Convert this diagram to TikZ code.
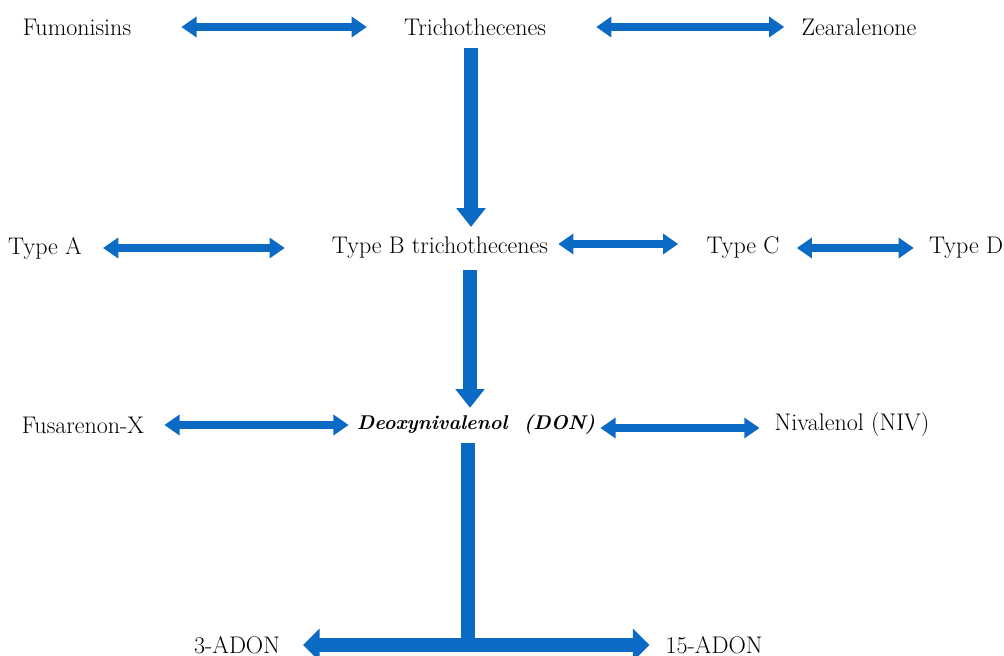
\documentclass[tikz,border=0pt]{standalone}
\usetikzlibrary{arrows.meta}
\definecolor{arrblue}{RGB}{10,106,196}
\tikzset{
	lbl/.style={font=\fontsize{20.5}{24}\selectfont, inner sep=0pt},
	twoway/.style={draw=arrblue, line width=7.5pt, {Triangle[width=17pt,length=13pt]}-{Triangle[width=17pt,length=13pt]}},
	downway/.style={draw=arrblue, line width=12pt, -{Triangle[width=24pt,length=16pt]}},
	bigway/.style={draw=arrblue, line width=12pt, {Triangle[width=27pt,length=14pt]}-{Triangle[width=27pt,length=14pt]}}
}
\begin{document}
\begin{tikzpicture}[x=0.03cm,y=-0.03cm]
	\useasboundingbox (0,0) rectangle (1004,656);
	% first row
	\node[lbl] (fum) at (77,27) {Fumonisins};
	\node[lbl] (tri) at (475,27) {Trichothecenes};
	\node[lbl] (zea) at (859,27) {Zearalenone};
	% second row
	\node[lbl] (typA) at (45,248) {Type A};
	\node[lbl] (typB) at (440,248) {Type B trichothecenes};
	\node[lbl] (typC) at (743,248) {Type C};
	\node[lbl] (typD) at (966,248) {Type D};
	% third row
	\node[lbl] (fus) at (83,425) {Fusarenon-X};
	\node[lbl, font=\fontsize{17}{21}\selectfont] (don) at (476,425) {\textit{\textbf{Deoxynivalenol\ \ (DON)}}};
	\node[lbl] (niv) at (852,425) {Nivalenol (NIV)};
	% bottom row
	\node[lbl] (adA) at (237,645) {3-ADON};
	\node[lbl] (adB) at (714,645) {15-ADON};
	% horizontal arrows
	\draw[twoway, shorten <=1.5cm, shorten >=1.11cm] (fum.east) -- (tri.west);
	\draw[twoway, shorten <=1.5cm, shorten >=0.51cm] (tri.east) -- (zea.west);
	\draw[twoway, shorten <=0.63cm, shorten >=1.41cm] (typA.east) -- (typB.west);
	\draw[twoway, shorten <=0.3cm, shorten >=0.84cm] ([yshift=0.12cm]typB.east) -- ([yshift=0.12cm]typC.west);
	\draw[twoway, shorten <=0.51cm, shorten >=0.45cm] (typC.east) -- (typD.west);
	\draw[twoway, shorten <=0.6cm, shorten >=0.24cm] (fus.east) -- (don.west);
	\draw[twoway, shorten <=0.15cm, shorten >=0.45cm] ([yshift=-0.09cm]don.east) -- ([yshift=-0.09cm]niv.west);
	% downward arrows
	\draw[downway, shorten <=0.36cm, shorten >=0.3cm] ([xshift=-0.12cm]tri.south) -- ([xshift=-0.12cm]tri.south |- typB.north);
	\draw[downway, shorten <=0.33cm, shorten >=0.21cm] ([xshift=-0.18cm]don.north |- typB.south) -- ([xshift=-0.18cm]don.north);
	\draw[draw=arrblue, line width=12pt, shorten <=0.24cm] ([xshift=-0.24cm]don.south) -- ([xshift=-0.24cm]don.south |- adA);
	\draw[bigway, shorten <=0.69cm, shorten >=0.48cm] (adA.east) -- (adB.west);
\end{tikzpicture}
\end{document}
